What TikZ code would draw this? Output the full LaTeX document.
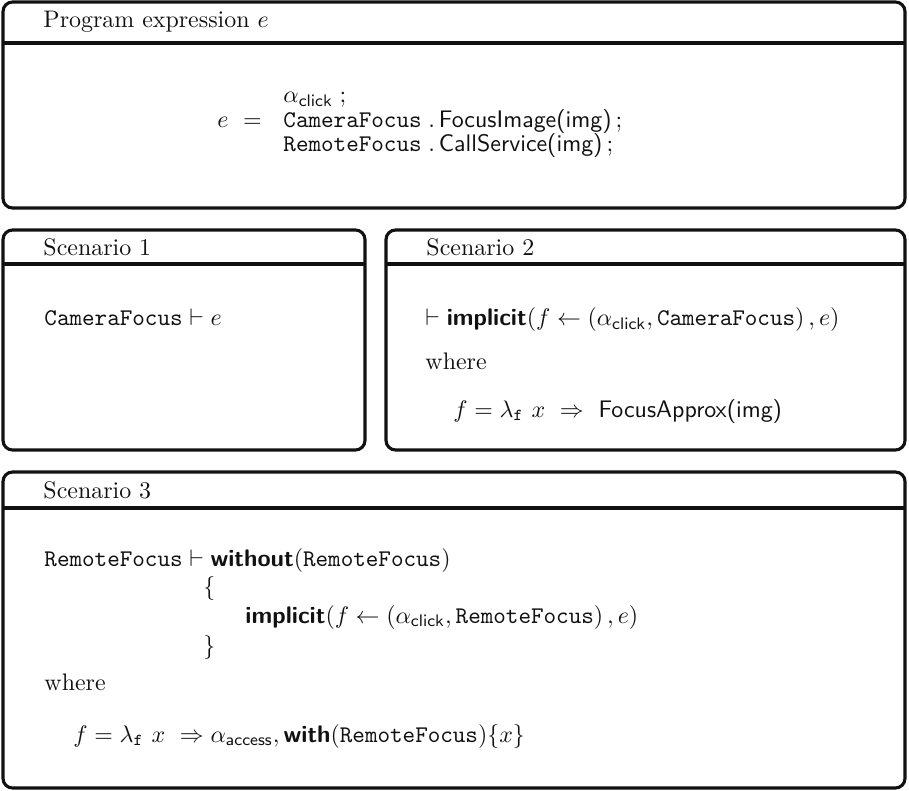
\documentclass[tikz,border=0pt]{standalone}
\usetikzlibrary{calc}
\definecolor{Ink}{HTML}{111111}

\tikzset{
    panel/.style={draw=Ink, line width=1.3pt, rounded corners=4pt},
    hrule/.style={draw=Ink, line width=1.3pt},
    txt/.style={anchor=base west, inner sep=0pt, text=Ink},
}

\NewDocumentCommand{\KW}{m}{\textsf{\bfseries #1}}
\NewDocumentCommand{\Res}{m}{\mathtt{#1}}
\NewDocumentCommand{\Act}{m}{\mathsf{#1}}

\NewDocumentCommand{\DrawPanel}{O{34} m m m m m m}{
    
    \begin{scope}
        \draw[panel] (#3,#4) rectangle (#5,#6);
        \draw[hrule] (#3,#4+#1) -- (#5,#4+#1);
        \node[txt] (#2) at (#3+40,#4+26) {#7};
    \end{scope}
}

\begin{document}
\begin{tikzpicture}[x=0.418pt, y=-0.418pt]

    \useasboundingbox (0,0) rectangle (909,791);

    % program expression
    \DrawPanel[41]{expr-title}{3}{2}{905}{208}{Program expression $e$}
    \node[txt] (click) at (283,103) {$\alpha_{\Act{click}}\;;$};
    \node[txt] (eq) at (217,128) {$e\ =$};
    \node[txt] (cam-call) at (283,128) {$\Res{CameraFocus}\;.\,\textsf{FocusImage(img)}\,;$};
    \node[txt] (rem-call) at (283,152) {$\Res{RemoteFocus}\;.\,\textsf{CallService(img)}\,;$};

    % scenario 1
    \DrawPanel{s1-title}{3}{230}{365}{450}{Scenario 1}
    \node[txt] (s1-judg) at (44,326) {$\Res{CameraFocus} \vdash e$};

    % scenario 2
    \DrawPanel{s2-title}{386}{230}{905}{450}{Scenario 2}
    \node[txt] (s2-judg) at (425,326) {$\vdash \KW{implicit}(f \leftarrow (\alpha_{\Act{click}}, \Res{CameraFocus})\,, e)$};
    \node[txt] (s2-where) at (425,369) {where};
    \node[txt] (s2-def) at (453,417) {$f = \lambda_{\mathtt{f}}\ x \ \Rightarrow\ \textsf{FocusApprox(img)}$};

    % scenario 3
    \DrawPanel[36]{s3-title}{3}{472}{905}{788}{Scenario 3}
    \node[txt] (s3-judg) at (44,566) {$\Res{RemoteFocus} \vdash \KW{without}(\Res{RemoteFocus})$};
    \node[txt] (s3-open) at (203,594) {$\{$};
    \node[txt] (s3-body) at (245,623) {$\KW{implicit}(f \leftarrow (\alpha_{\Act{click}}, \Res{RemoteFocus})\,, e)$};
    \node[txt] (s3-close) at (203,653) {$\}$};
    \node[txt] (s3-where) at (44,690) {where};
    \node[txt] (s3-def) at (73,742) {$f = \lambda_{\mathtt{f}}\ x \ \Rightarrow \alpha_{\Act{access}}, \KW{with}(\Res{RemoteFocus})\{x\}$};
\end{tikzpicture}
\end{document}
